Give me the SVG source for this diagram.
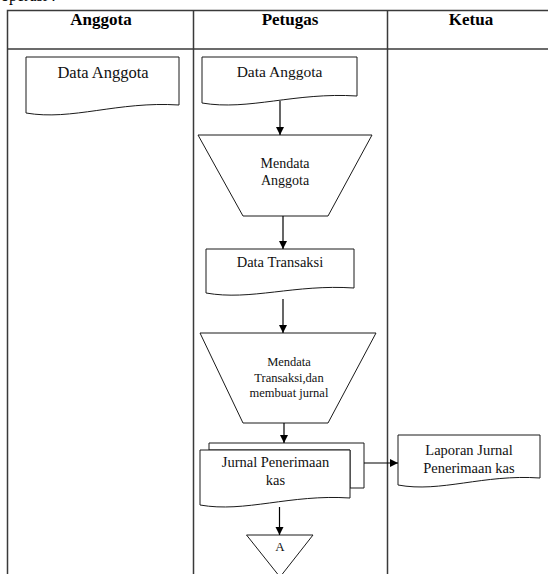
<svg xmlns="http://www.w3.org/2000/svg" width="548" height="574" viewBox="0 0 548 574">
<style>
.tbl{fill:none;stroke:#3a3a3a;stroke-width:1.5}
.shp{fill:#fff;stroke:#1a1a1a;stroke-width:1}
.con{fill:none;stroke:#000;stroke-width:1.2}
.hd{font-family:"Liberation Serif",serif;font-size:17px;font-weight:bold;fill:#000;text-anchor:middle}
.t{font-family:"Liberation Serif",serif;fill:#111;text-anchor:middle}
</style>
<defs>
<marker id="ah" markerUnits="userSpaceOnUse" markerWidth="9" markerHeight="9" refX="8" refY="4" orient="auto">
<path d="M0,0 L8,4 L0,8 z" fill="#000"/>
</marker>
</defs>
<text x="1" y="1" font-family="Liberation Serif, serif" font-size="16" fill="#000">operasi :</text>
<g id="table">
<rect class="tbl" x="7.5" y="10.5" width="545" height="580"/>
<line class="tbl" x1="7.5" y1="49" x2="548" y2="49"/>
<line class="tbl" x1="193.5" y1="10.5" x2="193.5" y2="580"/>
<line class="tbl" x1="387.5" y1="10.5" x2="387.5" y2="580"/>
<text class="hd" x="101" y="25">Anggota</text>
<text class="hd" x="290" y="25">Petugas</text>
<text class="hd" x="471" y="25">Ketua</text>
</g>
<g id="anggota-data">
<path class="shp" d="M26,57 H179 V105 C117.8,101 71.9,121 26,113 Z"/>
<text class="t" x="103" y="78" font-size="16.5">Data Anggota</text>
</g>
<g id="petugas-data-anggota">
<path class="shp" d="M202,57 H357 V96 C295,92 248.5,111 202,103 Z"/>
<text class="t" x="279.5" y="77" font-size="15.5">Data Anggota</text>
</g>
<g id="mendata-anggota">
<path class="shp" d="M198,135 H372 L328,216 H243 Z"/>
<text class="t" x="285" y="168" font-size="14">Mendata</text>
<text class="t" x="285" y="185" font-size="14">Anggota</text>
</g>
<g id="data-transaksi">
<path class="shp" d="M206,249 H354 V288 C294.8,284 250.4,301 206,293 Z"/>
<text class="t" x="280" y="267" font-size="14.5">Data Transaksi</text>
</g>
<g id="mendata-transaksi">
<path class="shp" d="M200,333 H376 L328,423 H243 Z"/>
<text class="t" x="289" y="366" font-size="12.5">Mendata</text>
<text class="t" x="289" y="382" font-size="12.5">Transaksi,dan</text>
<text class="t" x="289" y="397" font-size="12.5">membuat jurnal</text>
</g>
<g id="jurnal-penerimaan">
<path class="shp" d="M209,443 H364 V488 H350 V450 H209 Z"/>
<path class="shp" d="M200,450 H350 V498 C290,494 245,513 200,505 Z"/>
<text class="t" x="275.5" y="467" font-size="14.5">Jurnal Penerimaan</text>
<text class="t" x="275.5" y="485" font-size="14.5">kas</text>
</g>
<g id="laporan-jurnal">
<path class="shp" d="M398,435 H540 V478 C483.2,474 440.6,493 398,485 Z"/>
<text class="t" x="469" y="455" font-size="14.5">Laporan Jurnal</text>
<text class="t" x="469" y="473" font-size="14.5">Penerimaan kas</text>
</g>
<g id="offpage-a">
<path class="shp" d="M246.5,535 H313 L280,577 Z"/>
<text class="t" x="280" y="551" font-size="13">A</text>
</g>
<g id="connectors">
<line class="con" x1="280" y1="101" x2="280" y2="135" marker-end="url(#ah)"/>
<line class="con" x1="283" y1="216" x2="283" y2="249" marker-end="url(#ah)"/>
<line class="con" x1="283" y1="299" x2="283" y2="333" marker-end="url(#ah)"/>
<line class="con" x1="284" y1="423" x2="284" y2="443" marker-end="url(#ah)"/>
<line class="con" x1="364" y1="463" x2="398" y2="463" marker-end="url(#ah)"/>
<line class="con" x1="279.5" y1="507" x2="279.5" y2="535" marker-end="url(#ah)"/>
</g>
</svg>
